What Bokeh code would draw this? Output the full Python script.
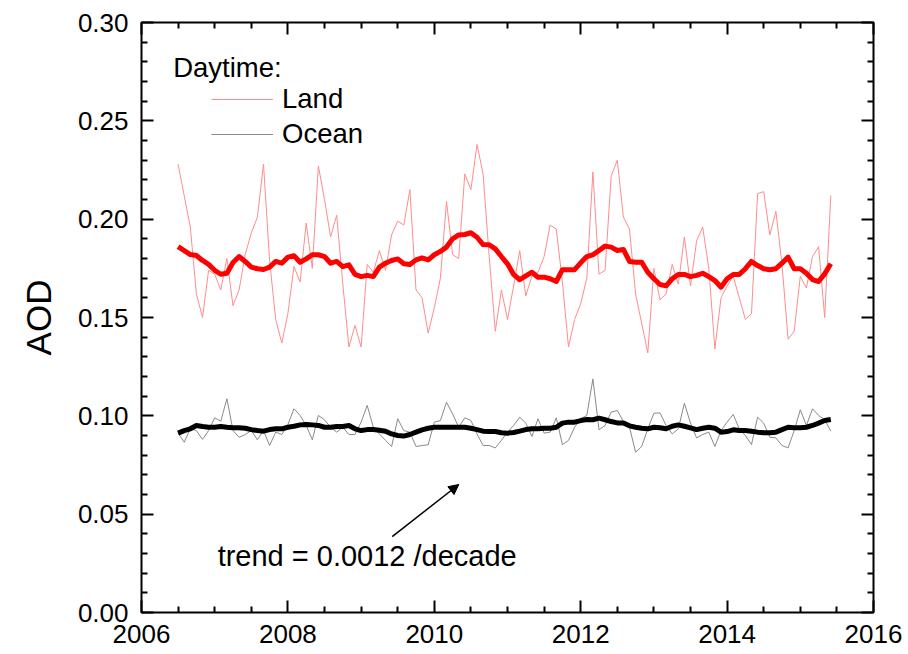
from bokeh.plotting import figure
from bokeh.models import (Range1d, FixedTicker, NumeralTickFormatter, LinearAxis,
                          CustomJSTickFormatter, Label, Arrow, NormalHead, Legend, LegendItem)
from bokeh.embed import file_html
from bokeh.resources import INLINE

# ---------------- data (monthly, Jul 2006 - Jun 2015) ----------------
start_year = 2006.5
n_months = 108

land_monthly = [
    0.228, 0.212, 0.196, 0.162, 0.150, 0.174, 0.172, 0.164, 0.180, 0.156,
    0.164, 0.182, 0.193, 0.201, 0.228, 0.179, 0.149, 0.137, 0.152, 0.176,
    0.168, 0.198, 0.175, 0.227, 0.210, 0.191, 0.202, 0.167, 0.135, 0.146,
    0.135, 0.177, 0.173, 0.184, 0.174, 0.192, 0.199, 0.197, 0.215, 0.164,
    0.160, 0.142, 0.155, 0.170, 0.209, 0.182, 0.180, 0.223, 0.215, 0.238,
    0.223, 0.181, 0.143, 0.164, 0.149, 0.166, 0.184, 0.161, 0.171, 0.173,
    0.181, 0.197, 0.195, 0.168, 0.135, 0.149, 0.157, 0.170, 0.224, 0.172,
    0.174, 0.222, 0.230, 0.201, 0.195, 0.162, 0.147, 0.132, 0.175, 0.159,
    0.162, 0.177, 0.167, 0.191, 0.166, 0.189, 0.196, 0.175, 0.134, 0.160,
    0.166, 0.171, 0.160, 0.149, 0.152, 0.213, 0.214, 0.192, 0.204, 0.177,
    0.139, 0.143, 0.171, 0.165, 0.181, 0.186, 0.150, 0.212,
]

land_smooth = [
    0.186, 0.184, 0.182, 0.1815, 0.179, 0.177, 0.174, 0.172, 0.1725, 0.178,
    0.181, 0.1785, 0.1756, 0.1748, 0.1744, 0.1756, 0.1785, 0.1776, 0.1807, 0.1814,
    0.1781, 0.1798, 0.1819, 0.1819, 0.181, 0.1776, 0.1785, 0.1759, 0.1768, 0.1719,
    0.1708, 0.1714, 0.1708, 0.1756, 0.1776, 0.179, 0.1798, 0.1773, 0.1769, 0.1793,
    0.1803, 0.1793, 0.1819, 0.1836, 0.1858, 0.190, 0.192, 0.1922, 0.1931, 0.1908,
    0.1871, 0.187, 0.1849, 0.181, 0.1773, 0.1719, 0.1692, 0.1712, 0.173, 0.1705,
    0.1705, 0.1697, 0.1683, 0.1743, 0.1743, 0.1743, 0.1778, 0.181, 0.1819, 0.1841,
    0.1863, 0.1858, 0.1841, 0.1846, 0.1785, 0.1781, 0.1781, 0.173, 0.1697, 0.1668,
    0.1661, 0.1697, 0.1719, 0.1719, 0.1708, 0.1714, 0.1725, 0.1708, 0.1688, 0.1654,
    0.1697, 0.1719, 0.1719, 0.1748, 0.1785, 0.1764, 0.1748, 0.1743, 0.1748, 0.1776,
    0.1807, 0.1748, 0.1748, 0.1725, 0.1693, 0.1683, 0.1722, 0.1773,
]

ocean_monthly = [
    0.0912, 0.0866, 0.0934, 0.0925, 0.0880, 0.0925, 0.0990, 0.0973, 0.1087, 0.0925,
    0.0891, 0.0905, 0.0925, 0.0878, 0.0925, 0.0849, 0.0917, 0.0905, 0.0956, 0.1036,
    0.1002, 0.0951, 0.0878, 0.1002, 0.0980, 0.0942, 0.0917, 0.0942, 0.0905, 0.0905,
    0.0968, 0.1053, 0.0942, 0.0908, 0.0875, 0.0844, 0.0985, 0.0925, 0.0917, 0.0844,
    0.0849, 0.0853, 0.0968, 0.0976, 0.1069, 0.1010, 0.0942, 0.0990, 0.0976, 0.0908,
    0.0849, 0.0849, 0.0837, 0.0875, 0.0917, 0.0951, 0.0993, 0.0963, 0.0895, 0.0985,
    0.0912, 0.0917, 0.0990, 0.0854, 0.0875, 0.0942, 0.0985, 0.1002, 0.1188, 0.0929,
    0.0951, 0.1019, 0.1027, 0.0971, 0.0942, 0.0815, 0.0844, 0.0934, 0.1013, 0.1015,
    0.0951, 0.0908, 0.0934, 0.1064, 0.0963, 0.0888, 0.0905, 0.0917, 0.0844, 0.0925,
    0.0968, 0.1007, 0.0934, 0.0900, 0.0854, 0.0993, 0.0963, 0.0891, 0.0888, 0.0849,
    0.0837, 0.0925, 0.1031, 0.0951, 0.1036, 0.1002, 0.0980, 0.0922,
]

ocean_smooth = [
    0.0912, 0.0925, 0.0934, 0.0951, 0.0946, 0.0942, 0.0942, 0.0946, 0.0942, 0.0939,
    0.0939, 0.0937, 0.0930, 0.0925, 0.0922, 0.0930, 0.0934, 0.0934, 0.0942, 0.0947,
    0.0954, 0.0956, 0.0954, 0.0951, 0.0942, 0.0942, 0.0946, 0.0946, 0.0951, 0.0934,
    0.0925, 0.0930, 0.0930, 0.0927, 0.0922, 0.0908, 0.0900, 0.0897, 0.0905, 0.0917,
    0.0929, 0.0937, 0.0942, 0.0942, 0.0942, 0.0942, 0.0942, 0.0942, 0.0937, 0.0930,
    0.0922, 0.0920, 0.0920, 0.0914, 0.0912, 0.0915, 0.0922, 0.0930, 0.0934, 0.0934,
    0.0937, 0.0937, 0.0942, 0.0963, 0.0968, 0.0968, 0.0976, 0.0981, 0.0980, 0.0988,
    0.0980, 0.0971, 0.0964, 0.0964, 0.0949, 0.0942, 0.0937, 0.0934, 0.0942, 0.0939,
    0.0934, 0.0947, 0.0954, 0.0947, 0.0939, 0.0930, 0.0937, 0.0942, 0.0937, 0.0917,
    0.0920, 0.0929, 0.0925, 0.0925, 0.0922, 0.0917, 0.0914, 0.0914, 0.0917, 0.0930,
    0.0942, 0.0939, 0.0939, 0.0942, 0.0951, 0.0963, 0.0976, 0.0981,
]

years = [start_year + i / 12.0 for i in range(n_months)]

x_limits = (2006, 2016)
y_limits = (0.0, 0.30)
x_major_ticks = [2006, 2008, 2010, 2012, 2014, 2016]
x_minor_ticks = [2006.5, 2007, 2007.5, 2008.5, 2009, 2009.5, 2010.5, 2011, 2011.5,
                 2012.5, 2013, 2013.5, 2014.5, 2015, 2015.5]
y_major_ticks = [0.0, 0.05, 0.10, 0.15, 0.20, 0.25, 0.30]
y_minor_ticks = [0.01, 0.02, 0.03, 0.04, 0.06, 0.07, 0.08, 0.09, 0.11, 0.12, 0.13, 0.14,
                 0.16, 0.17, 0.18, 0.19, 0.21, 0.22, 0.23, 0.24, 0.26, 0.27, 0.28, 0.29]

legend_title = "Daytime:"
legend_labels = ["Land", "Ocean"]
y_label = "AOD"
trend_text = "trend = 0.0012 /decade"
trend_pos = (2007.04, 0.0285)
arrow_from = (2009.425, 0.0386)
arrow_to = (2010.335, 0.0651)
title_pos = (2006.433, 0.2772)

FONT = "Liberation Sans"

# ---------------- figure ----------------
p = figure(width=908, height=654, output_backend="svg", toolbar_location=None,
           x_range=Range1d(*x_limits), y_range=Range1d(*y_limits),
           min_border_left=141, min_border_right=35, min_border_top=22,
           min_border_bottom=42)
p.background_fill_color = "white"
p.border_fill_color = "white"
p.outline_line_color = "black"
p.outline_line_width = 2
p.xgrid.visible = False
p.ygrid.visible = False


def style_axis(ax):
    ax.axis_line_color = None
    ax.major_tick_in = 12
    ax.major_tick_out = 0
    ax.minor_tick_in = 6
    ax.minor_tick_out = 0
    ax.major_tick_line_width = 2
    ax.minor_tick_line_width = 2
    ax.major_tick_line_color = "black"
    ax.minor_tick_line_color = "black"
    ax.major_label_text_font = FONT
    ax.major_label_text_color = "black"


xa = p.xaxis[0]
xa.ticker = FixedTicker(ticks=x_major_ticks, minor_ticks=x_minor_ticks)
xa.formatter = NumeralTickFormatter(format="0")
style_axis(xa)
xa.major_label_text_font_size = "26px"
xa.major_label_standoff = 12

ya = p.yaxis[0]
ya.ticker = FixedTicker(ticks=y_major_ticks, minor_ticks=y_minor_ticks)
ya.formatter = NumeralTickFormatter(format="0.00")
style_axis(ya)
ya.major_label_text_font_size = "26px"
ya.major_label_standoff = 13
ya.axis_label = y_label
ya.axis_label_text_font = FONT
ya.axis_label_text_font_style = "normal"
ya.axis_label_text_font_size = "35px"
ya.axis_label_text_color = "black"
ya.axis_label_standoff = 17

blank = CustomJSTickFormatter(code="return '';")

right_ax = LinearAxis(ticker=FixedTicker(ticks=y_major_ticks, minor_ticks=y_minor_ticks),
                      formatter=blank)
style_axis(right_ax)
right_ax.major_label_standoff = 0
p.add_layout(right_ax, "right")

top_ax = LinearAxis(ticker=FixedTicker(ticks=x_major_ticks, minor_ticks=x_minor_ticks),
                    formatter=blank)
style_axis(top_ax)
top_ax.major_label_standoff = 0
p.add_layout(top_ax, "above")

# ---------------- data lines ----------------
land_thin = p.line(years, land_monthly, line_color="#ff8c8c", line_width=1)
ocean_thin = p.line(years, ocean_monthly, line_color="#8a8a8a", line_width=1)
p.line(years, land_smooth, line_color="#ff0000", line_width=5, line_join="round")
p.line(years, ocean_smooth, line_color="#000000", line_width=5, line_join="round")

# ---------------- legend ----------------
p.add_layout(Label(x=title_pos[0], y=title_pos[1], text=legend_title,
                   text_font=FONT, text_font_size="27.5px", text_color="black",
                   text_baseline="alphabetic", text_align="left"))

legend = Legend(items=[LegendItem(label=legend_labels[0], renderers=[land_thin]),
                       LegendItem(label=legend_labels[1], renderers=[ocean_thin])],
                location=(70, 462), orientation="vertical",
                glyph_width=62, glyph_height=30, label_height=30, spacing=3,
                label_standoff=9, padding=0, margin=0,
                border_line_color=None, background_fill_alpha=0,
                label_text_font=FONT, label_text_font_size="27.5px",
                label_text_color="black")
p.add_layout(legend)

# ---------------- annotation ----------------
p.add_layout(Label(x=trend_pos[0], y=trend_pos[1], text=trend_text,
                   text_font=FONT, text_font_size="29px", text_color="black",
                   text_baseline="alphabetic", text_align="left"))
p.add_layout(Arrow(x_start=arrow_from[0], y_start=arrow_from[1],
                   x_end=arrow_to[0], y_end=arrow_to[1],
                   line_color="black", line_width=1.5,
                   end=NormalHead(size=10, fill_color="black", line_color="black")))

open("out.html", "w").write(file_html(p, INLINE))
